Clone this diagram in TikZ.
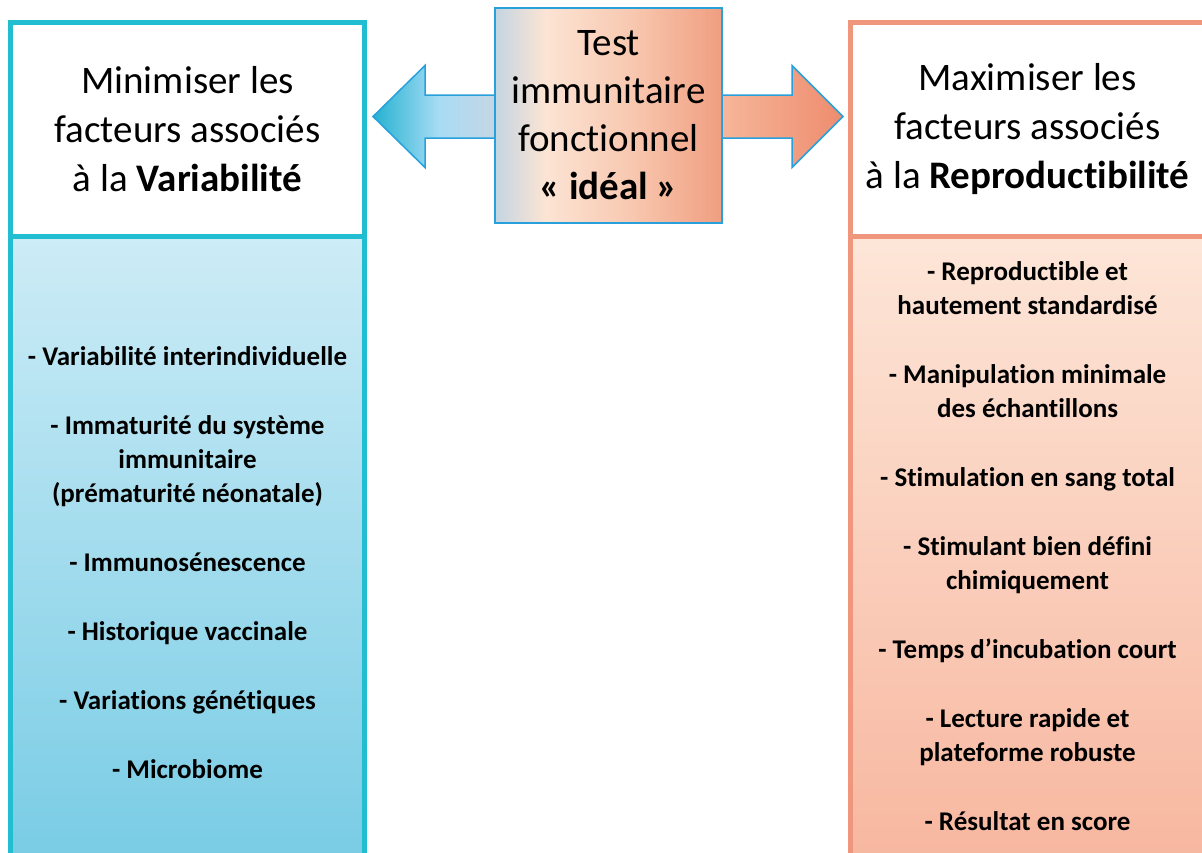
\documentclass[tikz,border=0pt]{standalone}
\usepackage{fontspec}
\setmainfont[Ligatures=NoCommon]{Carlito}
\usepackage{xcolor}
\usetikzlibrary{positioning, calc}
\definecolor{varline}{RGB}{32, 190, 208}
\definecolor{repline}{RGB}{240, 150, 125}
\definecolor{testline}{RGB}{40, 160, 220}
\definecolor{vartop}{RGB}{205, 236, 246}
\definecolor{varbottom}{RGB}{115, 202, 228}
\definecolor{reptop}{RGB}{253, 230, 216}
\definecolor{repbottom}{RGB}{247, 180, 156}
\definecolor{testleft}{RGB}{196, 213, 226}
\definecolor{testmid}{RGB}{252, 228, 212}
\definecolor{testmid2}{RGB}{248, 200, 176}
\definecolor{testright}{RGB}{240, 158, 128}
\definecolor{arrowteal}{RGB}{36, 178, 208}
\definecolor{arrowpale}{RGB}{168, 220, 245}
\definecolor{arrowgray}{RGB}{196, 214, 228}
\definecolor{arrowpeach}{RGB}{246, 182, 154}
\definecolor{arrowsalmon}{RGB}{238, 140, 110}
% the visible part of a shading runs from 25bp to 75bp
\pgfdeclarehorizontalshading{testshade}{100bp}{color(0bp)=(testleft); color(25bp)=(testleft); color(36bp)=(testmid); color(55bp)=(testmid2); color(75bp)=(testright); color(100bp)=(testright)}
\pgfdeclarehorizontalshading{leftarrowshade}{100bp}{color(0bp)=(arrowteal); color(25bp)=(arrowteal); color(52bp)=(arrowpale); color(75bp)=(arrowgray); color(100bp)=(arrowgray)}

\begin{document}
\begin{tikzpicture}[
    x=1pt, y=-1pt,
    headbox/.style={rectangle, line width=5pt, fill=white, minimum width=354pt, minimum height=213.5pt, inner sep=0pt, align=center, font=\fontsize{39}{49}\selectfont},
    bodybox/.style={rectangle, line width=5pt, minimum width=354pt, minimum height=664pt, inner sep=0pt},
    listtext/.style={align=center, inner sep=0pt, font=\bfseries\fontsize{27}{34}\selectfont},
    testbox/.style={rectangle, draw=testline, line width=1.5pt, shading=testshade, minimum width=227pt, minimum height=215pt, inner sep=0pt, align=center, font=\fontsize{39}{48}\selectfont},
    arrowline/.style={draw=testline, line width=1.5pt, line join=miter}
]
    \useasboundingbox (0,0) rectangle (1202,852);

    % Side boxes
    \node[bodybox, draw=varline, top color=vartop, bottom color=varbottom] (varbody) at (187.5,568) {};
    \node[headbox, draw=varline] (varhead) at (187.5,129.25) {Minimiser les\\facteurs associés\\à la \textbf{Variabilité}};
    \node[bodybox, draw=repline, top color=reptop, bottom color=repbottom] (repbody) at (1027.5,568) {};
    \node[headbox, draw=repline] (rephead) at (1027.5,129.25) {Maximiser les\\facteurs associés\\à la \textbf{Reproductibilité}};

    % Lists
    \node[listtext] (varlist) at (187.5,563) {- Variabilité interindividuelle\\[35pt]
        - Immaturité du système\\immunitaire\\(prématurité néonatale)\\[35pt]
        - Immunosénescence\\[35pt]
        - Historique vaccinale\\[35pt]
        - Variations génétiques\\[35pt]
        - Microbiome};
    \node[listtext] (replist) at (1027.5,546) {- Reproductible et\\hautement standardisé\\[35pt]
        - Manipulation minimale\\des échantillons\\[35pt]
        - Stimulation en sang total\\[35pt]
        - Stimulant bien défini\\chimiquement\\[35pt]
        - Temps d’incubation court\\[35pt]
        - Lecture rapide et\\plateforme robuste\\[35pt]
        - Résultat en score};

    % Double arrow
    \coordinate (testmid) at (608.5,116.5);
    \coordinate (ltip) at ($(testmid)+(-235.5,0)$);
    \coordinate (rtip) at ($(testmid)+(234.5,0)$);
    \shade[shading=leftarrowshade] (ltip) -- ++(52,-51) -- ++(0,29.5) -- ($(testmid)+(-113.5,-21.5)$) -- ($(testmid)+(-113.5,21.5)$) -- ($(ltip)+(52,21.5)$) -- ++(0,29.5) -- cycle;
    \shade[left color=arrowpeach, right color=arrowsalmon] ($(testmid)+(113.5,-21.5)$) -- ($(rtip)+(-51,-21.5)$) -- ++(0,-29.5) -- (rtip) -- ++(-51,51) -- ++(0,-29.5) -- ($(testmid)+(113.5,21.5)$) -- cycle;
    \path[arrowline] (ltip) -- ++(52,-51) -- ++(0,29.5) -- ($(rtip)+(-51,-21.5)$) -- ++(0,-29.5) -- (rtip) -- ++(-51,51) -- ++(0,-29.5) -- ($(ltip)+(52,21.5)$) -- ++(0,29.5) -- cycle;

    % Central test
    \node[testbox] (test) at (608.5,115.5) {Test\\immunitaire\\fonctionnel\\\textbf{« idéal »}};

\end{tikzpicture}
\end{document}
